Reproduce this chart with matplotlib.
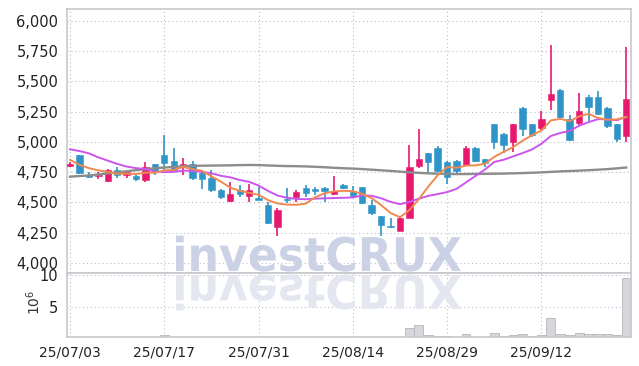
import numpy as np
import pandas as pd
import matplotlib
matplotlib.use("Agg")
import matplotlib.pyplot as plt
from matplotlib.textpath import TextPath
from matplotlib.patches import PathPatch
from matplotlib.font_manager import FontProperties
from matplotlib.transforms import Affine2D, IdentityTransform

# ---------------- data ----------------
opens = [4800, 4890, 4725, 4715, 4675, 4770, 4730, 4715, 4682, 4818,
         4891, 4845, 4803, 4815, 4745, 4705, 4603, 4514, 4603, 4555,
         4530, 4478, 4297, 4530, 4547, 4617, 4605, 4617, 4570, 4644,
         4590, 4625, 4478, 4387, 4302, 4266, 4368, 4802, 4904, 4953,
         4835, 4840, 4808, 4953, 4855, 5145, 5063, 5000, 5278, 5145,
         5115, 5341, 5431, 5191, 5156, 5374, 5374, 5278, 5145, 5049]
highs = [4830, 4895, 4755, 4750, 4775, 4790, 4760, 4735, 4830, 4820,
         5055, 4950, 4865, 4840, 4770, 4765, 4610, 4667, 4645, 4650,
         4630, 4505, 4450, 4615, 4605, 4640, 4630, 4625, 4722, 4650,
         4635, 4630, 4520, 4390, 4375, 4385, 4973, 5102, 4910, 4965,
         4840, 4850, 4965, 4960, 4862, 5150, 5075, 5150, 5287, 5150,
         5251, 5797, 5437, 5218, 5404, 5388, 5423, 5287, 5150, 5786]
lows = [4790, 4735, 4705, 4695, 4670, 4700, 4700, 4675, 4668, 4728,
        4770, 4760, 4730, 4688, 4610, 4590, 4528, 4500, 4548, 4500,
        4520, 4320, 4222, 4492, 4500, 4547, 4560, 4500, 4560, 4610,
        4540, 4485, 4400, 4222, 4290, 4266, 4368, 4780, 4740, 4752,
        4656, 4740, 4805, 4835, 4795, 4937, 4905, 4913, 5049, 5040,
        5095, 5259, 5200, 5010, 5142, 5170, 5218, 5115, 4995, 4995]
closes = [4815, 4740, 4710, 4728, 4770, 4730, 4748, 4693, 4790, 4761,
          4829, 4765, 4818, 4701, 4690, 4603, 4548, 4570, 4570, 4603,
          4522, 4330, 4436, 4520, 4590, 4575, 4595, 4597, 4597, 4617,
          4552, 4492, 4415, 4313, 4295, 4373, 4790, 4862, 4835, 4761,
          4711, 4761, 4953, 4843, 4822, 5000, 4973, 5145, 5104, 5055,
          5186, 5396, 5205, 5014, 5251, 5287, 5227, 5131, 5027, 5350]

ma5 = [4851, 4810, 4783, 4764, 4753, 4736, 4737, 4734, 4746, 4744,
       4764, 4768, 4793, 4775, 4761, 4715, 4672, 4622, 4596, 4579,
       4563, 4519, 4492, 4482, 4480, 4490, 4543, 4575, 4591, 4596,
       4592, 4571, 4535, 4478, 4413, 4378, 4437, 4527, 4631, 4724,
       4792, 4786, 4804, 4806, 4818, 4876, 4918, 4957, 5009, 5055,
       5093, 5177, 5189, 5171, 5210, 5231, 5197, 5182, 5185, 5204]
ma10 = [4938, 4924, 4905, 4872, 4845, 4818, 4796, 4783, 4775, 4755,
        4750, 4752, 4763, 4760, 4752, 4740, 4720, 4707, 4685, 4670,
        4639, 4595, 4557, 4539, 4529, 4526, 4531, 4534, 4536, 4538,
        4541, 4557, 4555, 4534, 4505, 4485, 4504, 4531, 4554, 4569,
        4585, 4612, 4665, 4718, 4771, 4834, 4852, 4880, 4907, 4937,
        4984, 5048, 5073, 5090, 5133, 5162, 5187, 5186, 5178, 5207]
ma_long = [4712, 4718, 4722, 4730, 4740, 4748, 4757, 4766, 4774, 4782,
           4788, 4793, 4798, 4801, 4803, 4804, 4805, 4806, 4808, 4809,
           4808, 4805, 4802, 4800, 4799, 4797, 4794, 4790, 4786, 4782,
           4779, 4775, 4770, 4765, 4760, 4754, 4748, 4744, 4740, 4737,
           4735, 4734, 4734, 4735, 4736, 4737, 4738, 4740, 4742, 4745,
           4748, 4752, 4756, 4759, 4762, 4766, 4770, 4775, 4781, 4788]

volume = [0.25e6, 0.22e6, 0.28e6, 0.2e6, 0.24e6, 0.2e6, 0.22e6, 0.2e6, 0.3e6, 0.25e6,
          0.72e6, 0.3e6, 0.25e6, 0.22e6, 0.2e6, 0.25e6, 0.22e6, 0.28e6, 0.2e6, 0.22e6,
          0.25e6, 0.3e6, 0.3e6, 0.2e6, 0.22e6, 0.2e6, 0.2e6, 0.22e6, 0.25e6, 0.2e6,
          0.22e6, 0.25e6, 0.28e6, 0.3e6, 0.25e6, 0.3e6, 1.8e6, 2.26e6, 0.77e6, 0.66e6,
          0.57e6, 0.45e6, 0.92e6, 0.5e6, 0.45e6, 1.08e6, 0.55e6, 0.77e6, 0.92e6, 0.55e6,
          0.77e6, 3.34e6, 0.92e6, 0.77e6, 1.08e6, 0.92e6, 0.92e6, 0.92e6, 0.77e6, 9.5e6]

holidays = ["2025-08-15"]
price_ticks = [4000, 4250, 4500, 4750, 5000, 5250, 5500, 5750, 6000]
tick_every = 10
watermark = "investCRUX"

# ---------------- styling ----------------
PINK = "#e8186f"
BLUE = "#2f94c7"
ORANGE = "#ef8a50"
MAGENTA = "#cc55ee"
GRAY = "#8c8c8c"
SPINE = "#c8c8cd"
GRID = "#b9bdd0"
FONT = ["Liberation Sans Narrow", "DejaVu Sans"]

plt.rcParams["font.family"] = FONT

days = pd.bdate_range("2025-07-03", periods=len(closes) + 5)
days = [d for d in days if d.strftime("%Y-%m-%d") not in holidays][:len(closes)]
x = np.arange(len(closes))
o = np.array(opens, float); c = np.array(closes, float)
h = np.array(highs, float); l = np.array(lows, float)

fig = plt.figure(figsize=(6.39, 3.66), dpi=100)
axp = fig.add_axes([0.1044, 0.2549, 0.8823, 0.7205])
axv = fig.add_axes([0.1044, 0.0784, 0.8823, 0.1765], sharex=axp)

for ax in (axp, axv):
    ax.set_facecolor("white")
    for s in ax.spines.values():
        s.set_color(SPINE)
        s.set_linewidth(1.2)
    ax.grid(True, linestyle=(0, (1, 2.5)), color=GRID, linewidth=0.8)
    ax.set_axisbelow(True)
    ax.tick_params(length=0, labelsize=10.5, colors="#222222", pad=6)

# candles
up = c >= o
cols = np.where(up, PINK, BLUE)
bottoms = np.minimum(o, c)
heights = np.maximum(np.abs(c - o), 12)
axp.vlines(x, l, h, colors=cols, linewidth=1.2, zorder=2)
axp.bar(x, heights, bottom=bottoms, width=0.68, color=cols, edgecolor=cols,
        linewidth=0.4, zorder=3)

axp.plot(x, ma_long, color=GRAY, lw=1.7, zorder=4)
axp.plot(x, ma10, color=MAGENTA, lw=1.4, zorder=5)
axp.plot(x, ma5, color=ORANGE, lw=1.4, zorder=6)

axp.set_ylim(3920, 6096)
axp.set_yticks(price_ticks)
axp.set_yticklabels([f"{v:,}" for v in price_ticks])
axp.tick_params(axis="x", labelbottom=False)

# volume
axv.bar(x, volume, width=0.95, color="#d7d7db", edgecolor="#b5b5bb", linewidth=0.6, zorder=2)
axv.set_ylim(0.4e6, 10.35e6)
axv.set_yticks([5e6, 10e6])
axv.set_yticklabels(["5", "10"])
tick_idx = list(range(0, len(days), tick_every))
axv.set_xticks(tick_idx)
axv.set_xticklabels([days[i].strftime("%y/%m/%d") for i in tick_idx])
axv.tick_params(axis="x", labelsize=10)
axv.set_xlim(-0.35, len(days) - 0.55)
fig.text(0.052, 0.175, r"$10^6$", rotation=90, ha="center", va="center",
         fontsize=10, color="#333333", family="DejaVu Sans")

# watermark with reflection
fp = FontProperties(family=FONT, weight="bold")
tp = TextPath((0, 0), watermark, size=100, prop=fp)
ext = tp.get_extents()
sc = 285.0 / ext.width
W, H = 639, 366
tr_main = Affine2D().translate(-ext.x0, 0).scale(sc, sc * 1.05).translate(176, H - 271) + IdentityTransform()
tr_ref = Affine2D().translate(-ext.x0, 0).scale(sc, -sc * 1.05).translate(176, H - 275) + IdentityTransform()
axp.add_artist(PathPatch(tp, transform=tr_main, facecolor="#ccd2e5", edgecolor="none", zorder=1))
axv.add_artist(PathPatch(tp, transform=tr_ref, facecolor="#e4e7f0", edgecolor="none", zorder=1))

fig.savefig("out.png", dpi=100)
